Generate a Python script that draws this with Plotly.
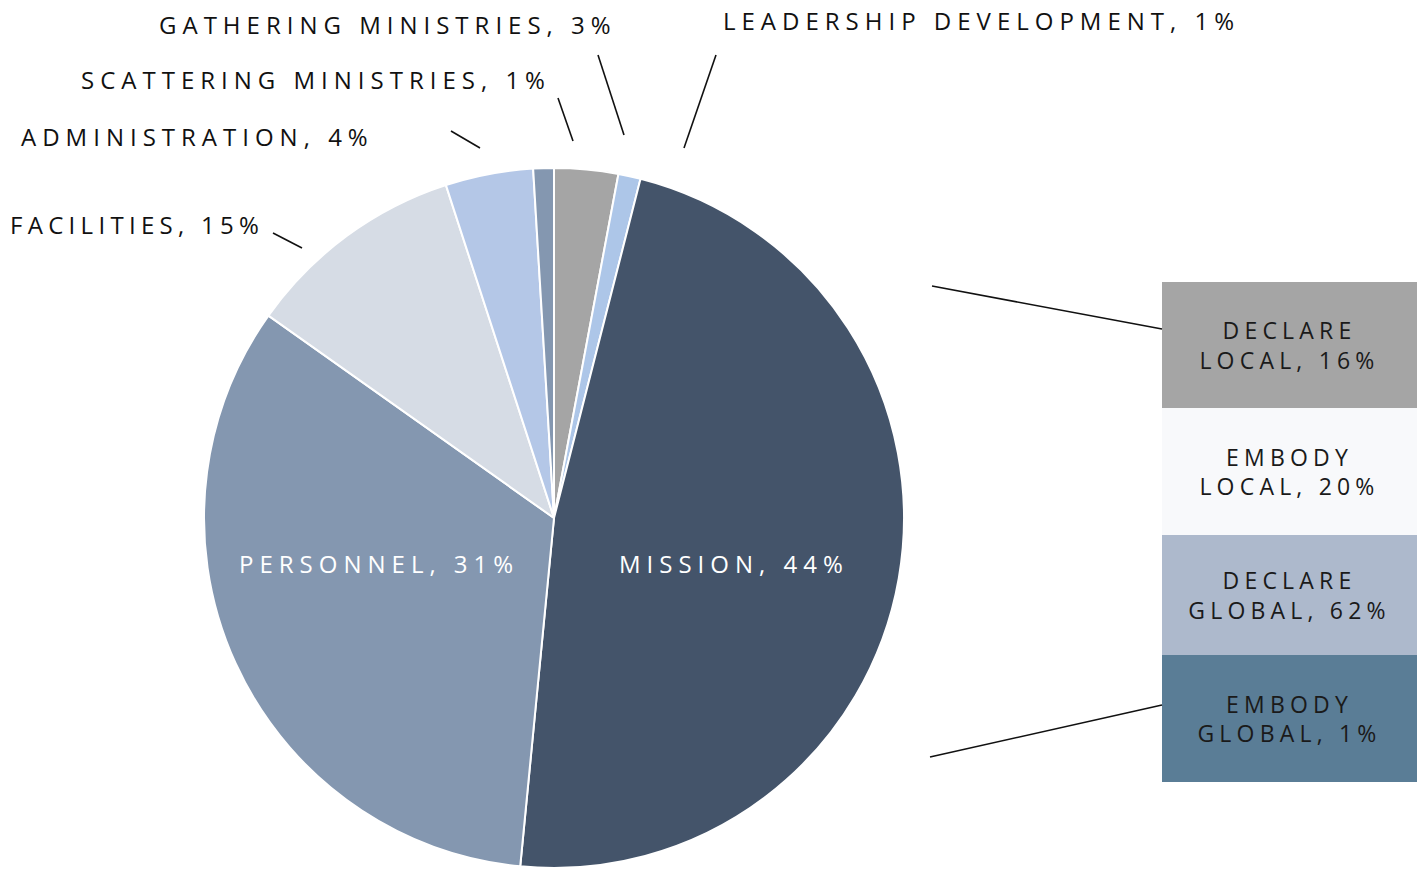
import plotly.graph_objects as go

W, H = 1423, 869

# ---- Pie data (slice sizes; displayed labels as printed) ----
pie_labels = ["Gathering Ministries", "Leadership Development", "Mission", "Personnel",
              "Facilities", "Administration", "Scattering Ministries"]
pie_values = [2.95, 1.03, 47.6, 33.3, 10.2, 4.05, 0.95]
pie_display_pct = [3, 1, 44, 31, 15, 4, 1]
pie_colors = ["#a5a5a5", "#adc6e8", "#44546a", "#8497b0", "#d6dce5", "#b4c7e7", "#8497b0"]

# ---- Stacked bar (bar-of-pie breakdown of Mission), bottom to top ----
bar_top_words = ["EMBODY", "DECLARE", "EMBODY", "DECLARE"]
bar_bottom_words = ["GLOBAL", "GLOBAL", "LOCAL", "LOCAL"]
bar_values = [25.4, 24.0, 25.4, 25.2]
bar_display_pct = [1, 62, 20, 16]
bar_colors = ["#5a7d96", "#adb9cc", "#f8f9fb", "#a5a5a5"]

FONT = "Open Sans"
FS = 24


def px(x):
    return x / W


def py(y):
    return 1 - y / H


fig = go.Figure()

fig.add_trace(go.Pie(
    labels=pie_labels, values=pie_values, sort=False, direction="clockwise", rotation=0,
    marker=dict(colors=pie_colors, line=dict(color="white", width=2)),
    textinfo="none", showlegend=False,
    domain=dict(x=[px(204), px(904)], y=[py(868), py(168)]),
))

for top, bot, val, pct, col in zip(bar_top_words, bar_bottom_words, bar_values,
                                   bar_display_pct, bar_colors):
    fig.add_trace(go.Bar(
        x=[0], y=[val], width=1, showlegend=False,
        marker=dict(color=col, line=dict(width=0)),
        text=[f"{top}<br>{bot}, {pct}%"], textposition="inside",
        insidetextanchor="middle", textangle=0,
        textfont=dict(family=FONT, size=23, color="#1a1a1a"),
        xaxis="x", yaxis="y", hoverinfo="skip",
    ))

# ---- Label annotations for the pie ----
label_pos = {
    "Gathering Ministries": (157, 25, "#111111"),
    "Leadership Development": (721, 20, "#111111"),
    "Mission": (617, 563, "#ffffff"),
    "Personnel": (237, 563, "#ffffff"),
    "Facilities": (8, 225, "#111111"),
    "Administration": (19, 136, "#111111"),
    "Scattering Ministries": (79, 80, "#111111"),
}
annotations = []
for lab, pct in zip(pie_labels, pie_display_pct):
    x, y, c = label_pos[lab]
    annotations.append(dict(
        text=f"{lab.upper()}, {pct}%", x=px(x), y=py(y), xref="paper", yref="paper",
        xanchor="left", yanchor="middle", align="left", showarrow=False,
        font=dict(family=FONT, size=FS, color=c),
    ))

# ---- Leader / connector lines (decoration) ----
segments = [
    ((598, 55), (624, 135)),
    ((558, 98), (573, 141)),
    ((451, 131), (480, 148)),
    ((273, 233), (302, 248)),
    ((716, 55), (684, 148)),
    ((932, 286), (1162, 329)),
    ((930, 757), (1162, 705)),
]
shapes = [dict(type="line", xref="paper", yref="paper", x0=px(a[0]), y0=py(a[1]),
               x1=px(b[0]), y1=py(b[1]), line=dict(color="#111111", width=1.6))
          for a, b in segments]

fig.update_layout(
    width=W, height=H, margin=dict(l=0, r=0, t=0, b=0),
    paper_bgcolor="white", plot_bgcolor="white",
    barmode="stack", bargap=0,
    xaxis=dict(domain=[px(1162), px(1417)], range=[-0.5, 0.5], visible=False, fixedrange=True),
    yaxis=dict(domain=[py(782), py(282)], range=[0, sum(bar_values)], visible=False, fixedrange=True),
    annotations=annotations, shapes=shapes,
    font=dict(family=FONT),
)

post = """
document.body.style.margin='0';
var gd = document.getElementById('{plot_id}');
gd.querySelectorAll('text.annotation-text').forEach(function(t){
  t.style.letterSpacing = (t.textContent.indexOf('FACILITIES') === 0) ? '5.3px' : '6px';
});
gd.querySelectorAll('text.bartext').forEach(function(t){ t.style.letterSpacing='5.2px'; });
"""

fig.write_html("out.html", post_script=post, config={"displayModeBar": False})
